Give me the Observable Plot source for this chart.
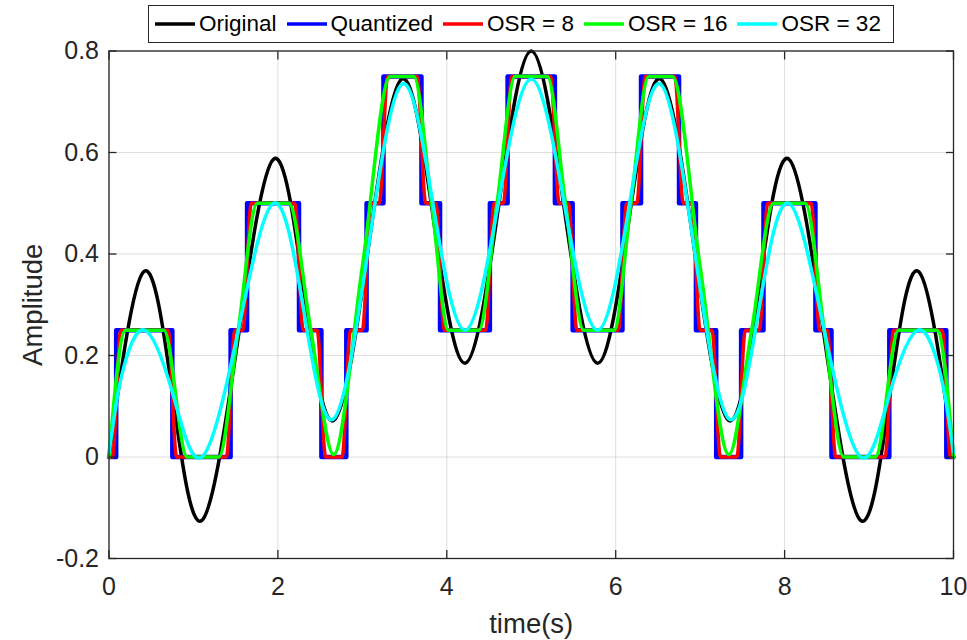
<!DOCTYPE html>
<html><head><meta charset="utf-8">
<script src="https://cdn.jsdelivr.net/npm/d3@7"></script>
<script src="https://cdn.jsdelivr.net/npm/@observablehq/plot@0.6"></script>
<style>
body{margin:0;background:#fff;}
#wrap{position:relative;width:967px;height:640px;font-family:"Liberation Sans",Arial,sans-serif;overflow:hidden;}
#legend{position:absolute;left:148px;top:5px;width:746px;height:38px;box-sizing:border-box;border:1px solid #262626;background:#fff;display:flex;align-items:center;padding-left:6px;font-size:22.5px;color:#000;white-space:nowrap;}
.item{display:flex;align-items:center;margin-right:10px;}
.item svg{margin-right:4px;}
</style></head>
<body><div id="wrap"><div id="legend"></div></div>
<script>
// ---- data ----
const seriesNames = ["Original", "Quantized", "OSR = 8", "OSR = 16", "OSR = 32"];
const seriesColors = ["#000000", "#0000ff", "#ff0000", "#00ff00", "#00ffff"];

const xTicks = [0, 2, 4, 6, 8, 10];
const xTickLabels = ["0", "2", "4", "6", "8", "10"];
const yTicks = [-0.2, 0, 0.2, 0.4, 0.6, 0.8];
const yTickLabels = ["-0.2", "0", "0.2", "0.4", "0.6", "0.8"];

// Original signal (extrema and mid crossings)
const origT = [0, 0.41, 0.755, 1.10, 1.525, 1.95, 2.305, 2.66, 3.065, 3.47, 3.845, 4.22, 4.61, 5.0, 5.39, 5.78, 6.155, 6.53, 6.935, 7.34, 7.695, 8.05, 8.475, 8.90, 9.245, 9.59, 10];
const origV = [0, 0.365, 0.12, -0.125, 0.23, 0.587, 0.33, 0.072, 0.405, 0.745, 0.465, 0.185, 0.49, 0.80, 0.49, 0.185, 0.465, 0.745, 0.405, 0.072, 0.33, 0.587, 0.23, -0.125, 0.12, 0.365, 0];

// Quantized (step after each time)
const quantT = [0, 0.085, 0.75, 1.44, 1.635, 2.25, 2.515, 2.81, 3.05, 3.25, 3.70, 3.92, 4.51, 4.72, 5.28, 5.49, 6.08, 6.30, 6.75, 6.95, 7.19, 7.485, 7.75, 8.365, 8.555, 9.24, 9.915, 10];
const quantV = [0, 0.25, 0, 0.25, 0.5, 0.25, 0, 0.25, 0.5, 0.75, 0.5, 0.25, 0.5, 0.75, 0.5, 0.25, 0.5, 0.75, 0.5, 0.25, 0, 0.25, 0.5, 0.25, 0, 0.25, 0, 0];

// OSR = 8
const osr8T = [0, 0.04, 0.14, 0.70, 0.80, 1.39, 1.49, 1.585, 1.685, 2.20, 2.30, 2.465, 2.565, 2.76, 2.86, 3.00, 3.10, 3.20, 3.30, 3.65, 3.75, 3.87, 3.97, 4.46, 4.56, 4.67, 4.77, 5.23, 5.33, 5.44, 5.54, 6.03, 6.13, 6.25, 6.35, 6.70, 6.80, 6.90, 7.00, 7.14, 7.24, 7.435, 7.535, 7.70, 7.80, 8.315, 8.415, 8.505, 8.605, 9.19, 9.29, 9.865, 9.965, 10];
const osr8V = [0, 0, 0.25, 0.25, 0, 0, 0.25, 0.25, 0.5, 0.5, 0.25, 0.25, 0, 0, 0.25, 0.25, 0.5, 0.5, 0.75, 0.75, 0.5, 0.5, 0.25, 0.25, 0.5, 0.5, 0.75, 0.75, 0.5, 0.5, 0.25, 0.25, 0.5, 0.5, 0.75, 0.75, 0.5, 0.5, 0.25, 0.25, 0, 0, 0.25, 0.25, 0.5, 0.5, 0.25, 0.25, 0, 0, 0.25, 0.25, 0, 0];

// OSR = 16
const osr16T = [0, 0.195, 0.65, 0.925, 1.30, 1.53, 1.755, 2.13, 2.39, 2.66, 3.0, 3.33, 3.61, 3.82, 4.02, 4.38, 4.595, 4.81, 5.19, 5.405, 5.62, 5.98, 6.18, 6.39, 6.67, 7.0, 7.34, 7.61, 7.87, 8.245, 8.47, 8.70, 9.075, 9.35, 9.805, 10];
const osr16V = [0, 0.25, 0.25, 0, 0, 0.25, 0.5, 0.5, 0.25, 0.005, 0.375, 0.75, 0.75, 0.5, 0.25, 0.25, 0.5, 0.75, 0.75, 0.5, 0.25, 0.25, 0.5, 0.75, 0.75, 0.375, 0.005, 0.25, 0.5, 0.5, 0.25, 0, 0, 0.25, 0.25, 0];

// OSR = 32
const osr32T = [0, 0.08, 0.18, 0.42, 0.755, 1.10, 1.525, 1.95, 2.305, 2.66, 3.065, 3.47, 3.845, 4.22, 4.61, 5.0, 5.39, 5.78, 6.155, 6.53, 6.935, 7.34, 7.695, 8.05, 8.475, 8.90, 9.245, 9.58, 9.82, 9.92, 10];
const osr32V = [0.01, 0.10, 0.18, 0.25, 0.125, 0.0, 0.245, 0.50, 0.29, 0.075, 0.405, 0.735, 0.49, 0.25, 0.50, 0.745, 0.50, 0.25, 0.49, 0.735, 0.405, 0.075, 0.29, 0.50, 0.245, 0.0, 0.125, 0.25, 0.18, 0.10, 0.01];

// ---- legend ----
const legend = document.getElementById("legend");
seriesNames.forEach((name, i) => {
  const it = document.createElement("div");
  it.className = "item";
  it.innerHTML = `<svg width="40" height="10"><line x1="0" x2="40" y1="5" y2="5" stroke="${seriesColors[i]}" stroke-width="3.5"/></svg><span>${name}</span>`;
  legend.appendChild(it);
});

// ---- chart ----
const font = "Liberation Sans, Arial, sans-serif";
const lbl = (labels, ticks) => d => labels[ticks.findIndex(t => Math.abs(t - d) < 1e-9)];
const series = (T) => ({length: T.length});

const chart = Plot.plot({
  width: 967,
  height: 640,
  marginLeft: 108.5,
  marginRight: 14,
  marginTop: 50.5,
  marginBottom: 82,
  x: {domain: [0, 10]},
  y: {domain: [-0.2, 0.8]},
  style: {fontFamily: font, fontSize: "25px", color: "#262626", background: "white", overflow: "visible"},
  marks: [
    Plot.gridX(xTicks, {stroke: "#262626", strokeOpacity: 0.15, strokeWidth: 1}),
    Plot.gridY(yTicks, {stroke: "#262626", strokeOpacity: 0.15, strokeWidth: 1}),
    Plot.line(series(origT), {x: origT, y: origV, stroke: seriesColors[0], strokeWidth: 3.5, curve: "natural"}),
    Plot.line(series(quantT), {x: quantT, y: quantV, stroke: seriesColors[1], strokeWidth: 4.5, curve: "step-after"}),
    Plot.line(series(osr8T), {x: osr8T, y: osr8V, stroke: seriesColors[2], strokeWidth: 3.5, curve: "monotone-x"}),
    Plot.line(series(osr16T), {x: osr16T, y: osr16V, stroke: seriesColors[3], strokeWidth: 3.5, curve: "monotone-x"}),
    Plot.line(series(osr32T), {x: osr32T, y: osr32V, stroke: seriesColors[4], strokeWidth: 3.5, curve: "natural"}),
    Plot.frame({stroke: "#262626", strokeWidth: 1.3}),
    Plot.axisX(xTicks, {anchor: "bottom", tickSize: 0, tickPadding: 19, tickFormat: lbl(xTickLabels, xTicks), label: null, fontSize: 25, fill: "#262626"}),
    Plot.axisX(xTicks, {anchor: "bottom", tickSize: -8, tickFormat: () => "", label: null, stroke: "#262626", strokeWidth: 1.3}),
    Plot.axisX(xTicks, {anchor: "top", tickSize: -8, tickFormat: () => "", label: null, stroke: "#262626", strokeWidth: 1.3}),
    Plot.axisY(yTicks, {anchor: "left", tickSize: 0, tickPadding: 10, tickFormat: lbl(yTickLabels, yTicks), label: null, fontSize: 25, fill: "#262626"}),
    Plot.axisY(yTicks, {anchor: "left", tickSize: -8, tickFormat: () => "", label: null, stroke: "#262626", strokeWidth: 1.3}),
    Plot.axisY(yTicks, {anchor: "right", tickSize: -8, tickFormat: () => "", label: null, stroke: "#262626", strokeWidth: 1.3}),
    Plot.text(["Amplitude"], {frameAnchor: "left", dx: -76, rotate: -90, textAnchor: "middle", fontSize: 27.5, fill: "#262626"}),
    Plot.text(["time(s)"], {frameAnchor: "bottom", dy: 74, textAnchor: "middle", fontSize: 27.5, fill: "#262626"})
  ]
});
chart.style.position = "absolute";
chart.style.left = "0";
chart.style.top = "0";
document.getElementById("wrap").insertBefore(chart, document.getElementById("legend"));
</script>
</body></html>
